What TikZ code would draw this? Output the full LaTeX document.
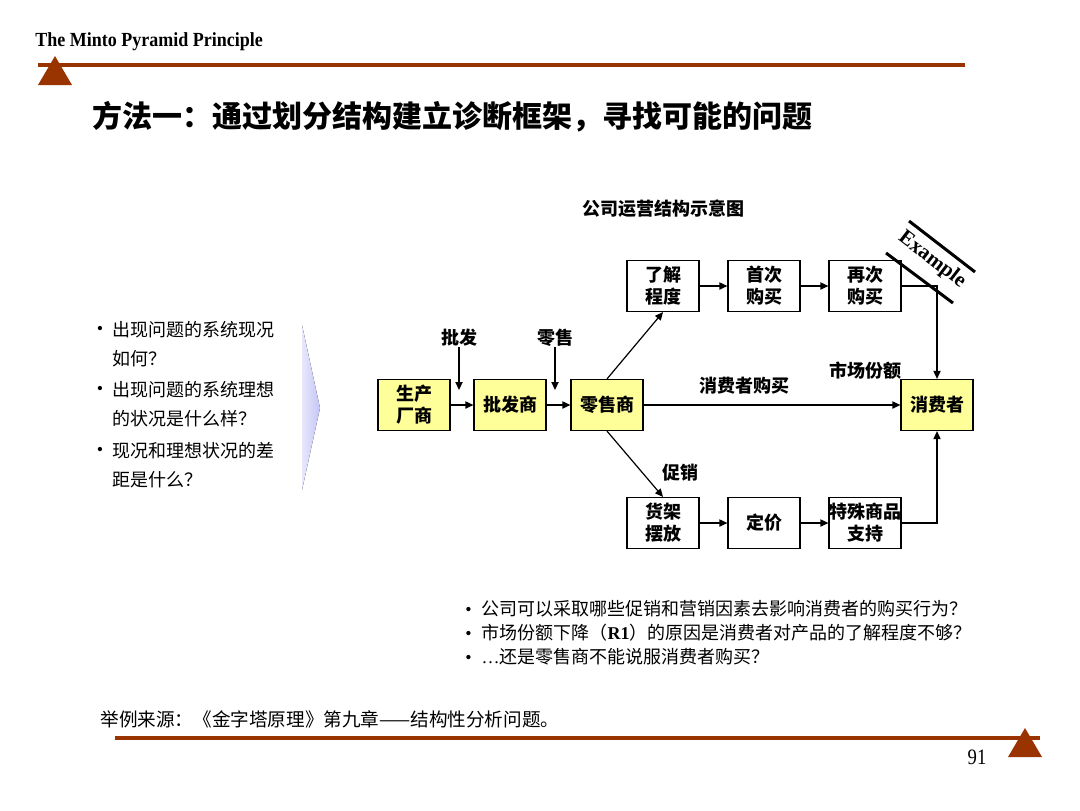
\documentclass[tikz,border=0pt]{standalone}
\usepackage{fontspec}
\setmainfont{Liberation Serif}
\newfontfamily\cjk{Noto Sans CJK SC}
\usetikzlibrary{arrows.meta}
\definecolor{rust}{HTML}{993300}
\definecolor{boxyellow}{HTML}{FFFF99}
\definecolor{lavender}{HTML}{C4C4F6}
\newcommand{\qdot}{{\rmfamily\textbullet}}

\begin{document}
\begin{tikzpicture}[x=0.5pt, y=-0.5pt,
  unit/.style={draw, line width=0.6pt, align=center, font=\cjk\bfseries\fontsize{9}{11}\selectfont, minimum width=36pt, minimum height=25.5pt, inner sep=0pt},
  actor/.style={unit, fill=boxyellow},
  factor/.style={unit, fill=white},
  tag/.style={font=\cjk\bfseries\fontsize{9}{11}\selectfont, inner sep=0pt},
  question/.style={font=\cjk\fontsize{9}{14.5}\selectfont, align=left, inner sep=0pt},
  arrow/.style={-{Triangle[length=4pt,width=3.6pt]}, line width=0.6pt},
  rule/.style={draw=rust, line width=2pt},
  band/.style={line width=1.5pt}
]
\useasboundingbox (0,0) rectangle (1080,810);

\node[anchor=west, inner sep=0pt, font=\bfseries\fontsize{10}{12}\selectfont] (header) at (35,42) {\scalebox{0.9}[1]{The Minto Pyramid Principle}};
\draw[rule] (38,65) -- (965,65);
\fill[rust] (38,85) -- (55,56) -- (72,85) -- cycle;
\node[anchor=west, inner sep=0pt, font=\cjk\bfseries\fontsize{15}{18}\selectfont] (title) at (92,117) {方法一：通过划分结构建立诊断框架，寻找可能的问题};

\node[tag] (chart) at (663,209) {公司运营结构示意图};

\node[actor] (maker) at (414,405) {生产\\厂商};
\node[actor] (whole) at (510,405) {批发商};
\node[actor] (retail) at (607,405) {零售商};
\node[actor] (buyer) at (937,405) {消费者};
\node[factor] (aware) at (663,286) {了解\\程度};
\node[factor] (first) at (764,286) {首次\\购买};
\node[factor] (again) at (865,286) {再次\\购买};
\node[factor] (shelf) at (663,523) {货架\\摆放};
\node[factor] (price) at (764,523) {定价};
\node[factor] (special) at (865,523) {特殊商品\\支持};

\node[tag] (wlabel) at (459,338) {批发};
\node[tag] (rlabel) at (555,338) {零售};
\node[tag] (plabel) at (680,473) {促销};
\node[tag] (clabel) at (744,386) {消费者购买};
\node[tag] (mlabel) at (865,371) {市场份额};
\coordinate (wend) at (459,390);
\coordinate (rend) at (555,390);

\draw[arrow] (maker) -- (whole);
\draw[arrow] (whole) -- (retail);
\draw[arrow] (retail) -- (buyer);
\draw[arrow] (wlabel.south) -- (wend);
\draw[arrow] (rlabel.south) -- (rend);
\draw[arrow] (retail.north) -- (aware.south);
\draw[arrow] (retail.south) -- (shelf.north);
\draw[arrow] (aware) -- (first);
\draw[arrow] (first) -- (again);
\draw[arrow] (shelf) -- (price);
\draw[arrow] (price) -- (special);
\draw[arrow] (again.east) -| (buyer.north);
\draw[arrow] (special.east) -| (buyer.south);

\draw[band] (909,221) -- (975,272);
\draw[band] (886,253) -- (953,303);
\node[rotate=-37.6, inner sep=0pt, font=\bfseries\fontsize{10.5}{12}\selectfont] (example) at (932,260) {Example};

\fill[left color=lavender!40, right color=lavender] (302,325) -- (320,408) -- (302,490) -- cycle;

\node[question] (d1) at (100,330) {\qdot};
\node[question] (d2) at (100,390) {\qdot};
\node[question] (d3) at (100,451) {\qdot};
\node[question, anchor=north west] (q1) at (112,321) {出现问题的系统现况\\如何？};
\node[question, anchor=north west] (q2) at (112,381) {出现问题的系统理想\\的状况是什么样？};
\node[question, anchor=north west] (q3) at (112,442) {现况和理想状况的差\\距是什么？};

\node[question, font=\cjk\fontsize{9}{12}\selectfont, anchor=north west] (asks) at (465,600) {\qdot\hspace{5pt}公司可以采取哪些促销和营销因素去影响消费者的购买行为？\\\qdot\hspace{5pt}市场份额下降（{\rmfamily\bfseries R1}）的原因是消费者对产品的了解程度不够？\\\qdot\hspace{5pt}{\rmfamily\ldots}还是零售商不能说服消费者购买？};

\node[anchor=west, inner sep=0pt, font=\cjk\fontsize{9.3}{10}\selectfont] (source) at (100,719) {举例来源：《金字塔原理》第九章——结构性分析问题。};
\draw[rule] (115,738) -- (1040,738);
\fill[rust] (1008,757) -- (1025,728) -- (1042,757) -- cycle;
\node[inner sep=0pt, font=\fontsize{11}{12}\selectfont] (page) at (977,757) {\scalebox{0.85}[1]{91}};
\end{tikzpicture}
\end{document}
